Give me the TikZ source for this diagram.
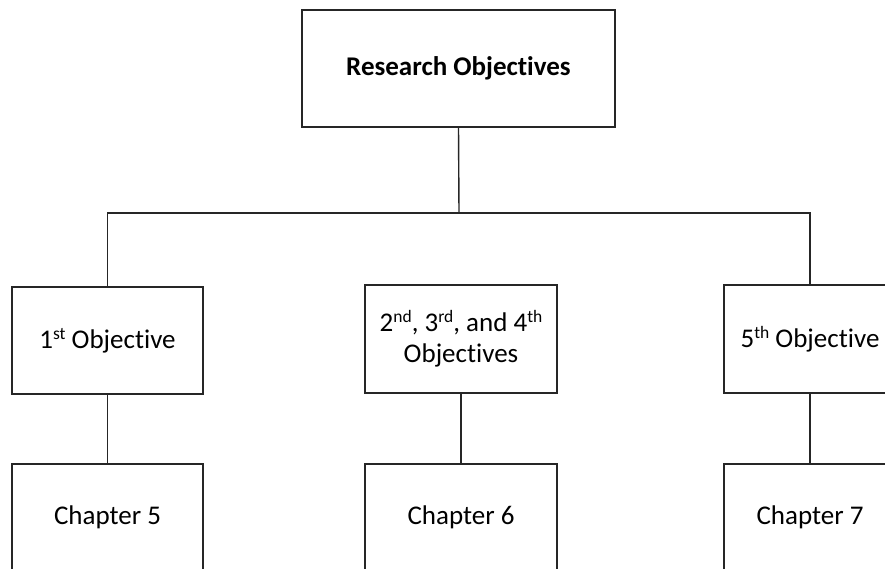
\documentclass[tikz,border=0pt]{standalone}
\usepackage{fontspec}
\setmainfont[Ligatures=NoCommon]{Carlito}
\newcommand{\ordsup}[1]{\raisebox{9pt}{\fontsize{17.5}{17.5}\selectfont #1}}
\begin{document}
\begin{tikzpicture}[x=1pt,y=-1pt,
  box/.style={draw=black!85, line width=1.4pt, rectangle, inner sep=0pt,
    align=center, font=\fontsize{27}{31}\selectfont},
  link/.style={draw=black!85, line width=1.4pt}]
  \useasboundingbox (0,0) rectangle (885,568);
  \clip (0,0) rectangle (885,568);

  % root
  \node[box, minimum width=313pt, minimum height=117pt, font=\fontsize{27}{31}\selectfont\bfseries]
    (top) at (458.5,68.5) {Research Objectives};

  % objectives
  \node[box, minimum width=191pt, minimum height=107pt] (o1) at (107.5,340.5)
    {1\ordsup{st} Objective};
  \node[box, minimum width=192pt, minimum height=108pt] (o2) at (461,339)
    {2\ordsup{nd}, 3\ordsup{rd}, and 4\ordsup{th}\\Objectives};
  \node[box, minimum width=172pt, minimum height=108pt] (o3) at (810,339)
    {5\ordsup{th} Objective};

  % chapters
  \node[box, minimum width=191pt, minimum height=107pt] (c1) at (107.5,517.5) {Chapter 5};
  \node[box, minimum width=192pt, minimum height=107pt] (c2) at (461,517.5) {Chapter 6};
  \node[box, minimum width=172pt, minimum height=107pt] (c3) at (810,517.5) {Chapter 7};

  % connectors
  \coordinate (bus) at (459,213);
  \draw[link] (top.south) -- (bus);
  \draw[link] (o1.north) |- (bus) -| (o3.north);
  \draw[link] (o1.south) -- (c1.north);
  \draw[link] (o2.south) -- (c2.north);
  \draw[link] (o3.south) -- (c3.north);
\end{tikzpicture}
\end{document}
